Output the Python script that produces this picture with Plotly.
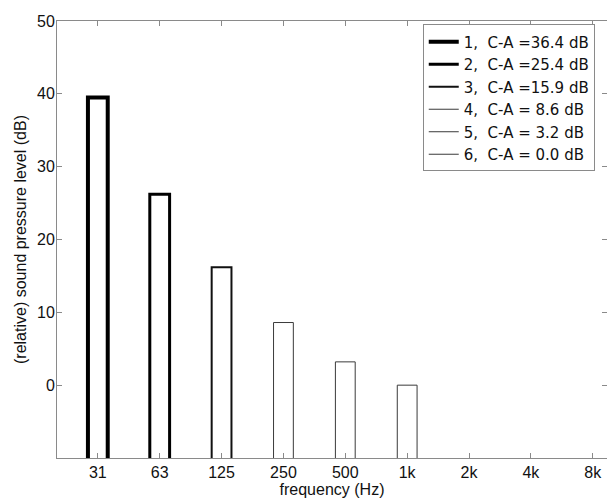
import plotly.graph_objects as go

# ---- data ----
categories = ["31", "63", "125", "250", "500", "1k", "2k", "4k", "8k"]
levels = [39.5, 26.2, 16.2, 8.6, 3.2, 0.0]          # bar tops (dB)
legend_labels = [
    "1,  C-A =36.4 dB",
    "2,  C-A =25.4 dB",
    "3,  C-A =15.9 dB",
    "4,  C-A = 8.6 dB",
    "5,  C-A = 3.2 dB",
    "6,  C-A = 0.0 dB",
]
y_ticks = [0, 10, 20, 30, 40, 50]

# ---- styles ----
line_widths = [4, 3, 2, 1, 1, 1]
line_colors = ["#000000", "#000000", "#111111", "#3a3a3a", "#3a3a3a", "#3a3a3a"]
AXIS_GRAY = "#8a8a8a"
FONT = "Liberation Sans, Arial, sans-serif"
LEGEND_FONT = "DejaVu Sans, Liberation Sans, sans-serif"
BASE = -10.6  # bars start below the bottom of the visible range

positions = list(range(1, len(levels) + 1))

fig = go.Figure()
fig.add_trace(go.Bar(
    x=positions,
    y=[v - BASE for v in levels],
    base=BASE,
    width=0.32,
    marker=dict(color="white", line=dict(color=line_colors, width=line_widths)),
    showlegend=False,
    hoverinfo="skip",
))

for lab, w, c in zip(legend_labels, line_widths, line_colors):
    fig.add_trace(go.Scatter(
        x=[None], y=[None], mode="lines",
        line=dict(color=c, width=w),
        name=lab.replace(" ", "\u00a0"),
        showlegend=True,
    ))

fig.update_layout(
    width=607, height=501,
    margin=dict(l=57, r=0, t=21, b=43, autoexpand=False),
    paper_bgcolor="white", plot_bgcolor="white",
    font=dict(family=FONT, size=16, color="#111111"),
    legend=dict(
        x=0.665, y=0.992, xanchor="left", yanchor="top",
        bgcolor="white", bordercolor=AXIS_GRAY, borderwidth=1,
        font=dict(family=LEGEND_FONT, size=15, color="#111111"),
        itemwidth=30,
    ),
    xaxis=dict(
        range=[0.34, 9.23],
        tickmode="array", tickvals=list(range(1, len(categories) + 1)), ticktext=categories,
        showline=True, linecolor=AXIS_GRAY, linewidth=1, mirror="ticks",
        ticks="inside", ticklen=5, tickcolor=AXIS_GRAY,
        showgrid=False, zeroline=False,
        title=dict(text="frequency (Hz)", standoff=2, font=dict(size=16)),
    ),
    yaxis=dict(
        range=[-10, 50],
        tickmode="array", tickvals=y_ticks,
        showline=True, linecolor=AXIS_GRAY, linewidth=1, mirror="ticks",
        ticks="inside", ticklen=5, tickcolor=AXIS_GRAY,
        ticklabelstandoff=-2,
        showgrid=False, zeroline=False,
        title=dict(text="(relative) sound pressure level (dB)", standoff=6, font=dict(size=16)),
    ),
)

fig.write_html("out.html", config={"displayModeBar": False},
               post_script="document.body.style.margin='0';")
